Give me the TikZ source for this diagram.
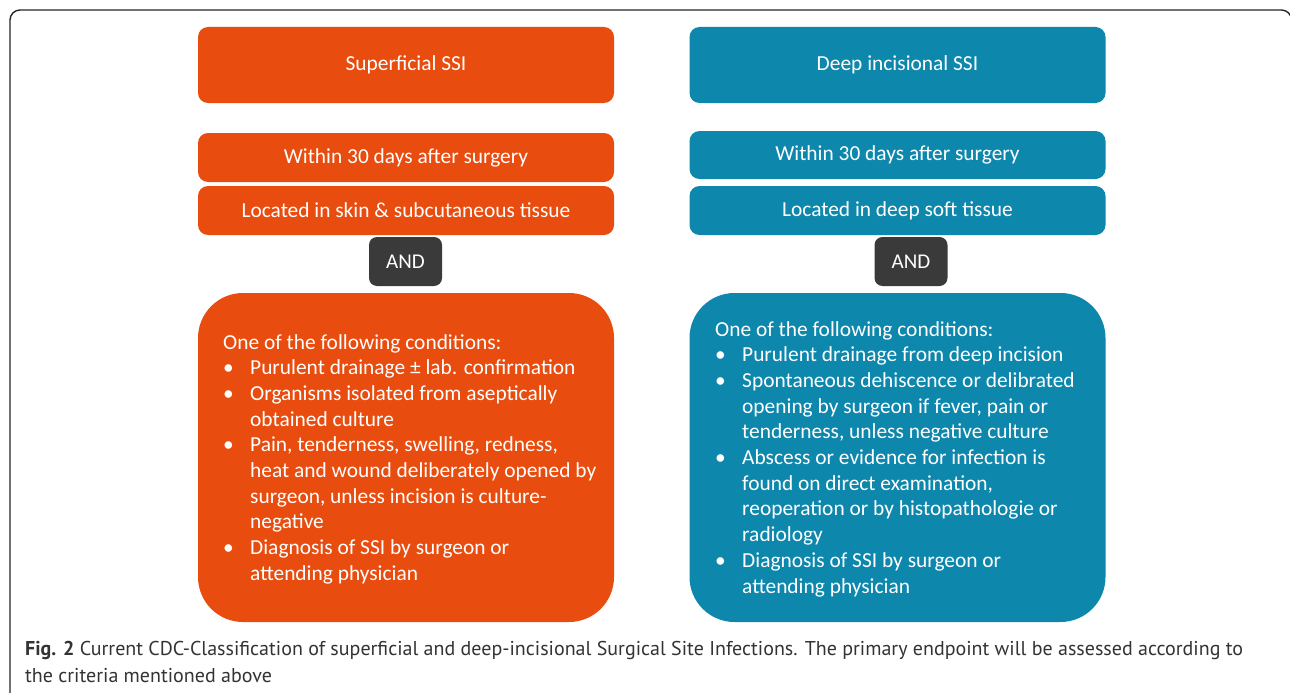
\documentclass[tikz,border=0pt]{standalone}
\usepackage{fontspec}
\setmainfont{Carlito}
\newfontfamily\capfont{PT Sans}
\definecolor{ssiorange}{HTML}{E84C0E}
\definecolor{ssiteal}{HTML}{0D87AC}
\definecolor{anddark}{HTML}{3A3A3A}
\definecolor{capgray}{HTML}{333333}
\newcommand{\bul}{\makebox[27pt][l]{•}}
\newcommand{\ind}{\hspace*{27pt}}
\tikzset{
  box/.style={rounded corners=10pt, minimum width=416pt, text=white, inner sep=0pt, font=\fontsize{21.4}{25}\selectfont},
  orangebox/.style={box, fill=ssiorange},
  tealbox/.style={box, fill=ssiteal},
  andbox/.style={rounded corners=8pt, fill=anddark, text=white, minimum width=73pt, minimum height=49pt, inner sep=0pt, font=\fontsize{21}{25}\selectfont},
  bigbox/.style={rounded corners=45pt, minimum width=416pt, minimum height=329pt, inner sep=0pt},
  bodytext/.style={text=white, align=left, inner sep=0pt, font=\fontsize{21.4}{25.7}\selectfont},
  captext/.style={text=capgray, align=left, inner sep=0pt, anchor=north west, font=\capfont\fontsize{20}{27}\selectfont}
}
\begin{document}
\begin{tikzpicture}[x=1pt, y=-1pt]
\useasboundingbox (0,0) rectangle (1290,693);
\fill[white] (0,0) rectangle (1290,693);
\draw[line width=1.4pt, rounded corners=10pt, black!85] (10,10) rectangle (1291.5,720);
% left column
\node[orangebox, minimum height=76pt] (suph) at (406,65) {Superficial SSI};
\node[orangebox, minimum height=49pt] (supw) at (406,157.5) {Within 30 days after surgery};
\node[orangebox, minimum height=49pt] (supl) at (406,210.5) {Located in skin \& subcutaneous tissue};
\node[andbox] (supand) at (405.5,261.5) {AND};
\node[bigbox, fill=ssiorange] (supbig) at (406,457.5) {};
\node[bodytext, anchor=north west] (suptxt) at (223,334) {One of the following conditions:\\
\bul Purulent drainage ± lab. confirmation\\
\bul Organisms isolated from aseptically\\
\ind obtained culture\\
\bul Pain, tenderness, swelling, redness,\\
\ind heat and wound deliberately opened by\\
\ind surgeon, unless incision is culture-\\
\ind negative\\
\bul Diagnosis of SSI by surgeon or\\
\ind attending physician};
% right column
\node[tealbox, minimum height=76pt] (deeph) at (897.5,65) {Deep incisional SSI};
\node[tealbox, minimum height=48pt] (deepw) at (897.5,155) {Within 30 days after surgery};
\node[tealbox, minimum height=49pt] (deepl) at (897.5,210.5) {Located in deep soft tissue};
\node[andbox] (deepand) at (911,261.5) {AND};
\node[bigbox, fill=ssiteal] (deepbig) at (897.5,457.5) {};
\node[bodytext, anchor=north west] (deeptxt) at (715,321) {One of the following conditions:\\
\bul Purulent drainage from deep incision\\
\bul Spontaneous dehiscence or delibrated\\
\ind opening by surgeon if fever, pain or\\
\ind tenderness, unless negative culture\\
\bul Abscess or evidence for infection is\\
\ind found on direct examination,\\
\ind reoperation or by histopathologie or\\
\ind radiology\\
\bul Diagnosis of SSI by surgeon or\\
\ind attending physician};
% caption
\node[captext] (cap) at (25,641) {{\bfseries Fig. 2} Current CDC-Classification of superficial and deep-incisional Surgical Site Infections. The primary endpoint will be assessed according to\\
the criteria mentioned above};
\end{tikzpicture}
\end{document}
